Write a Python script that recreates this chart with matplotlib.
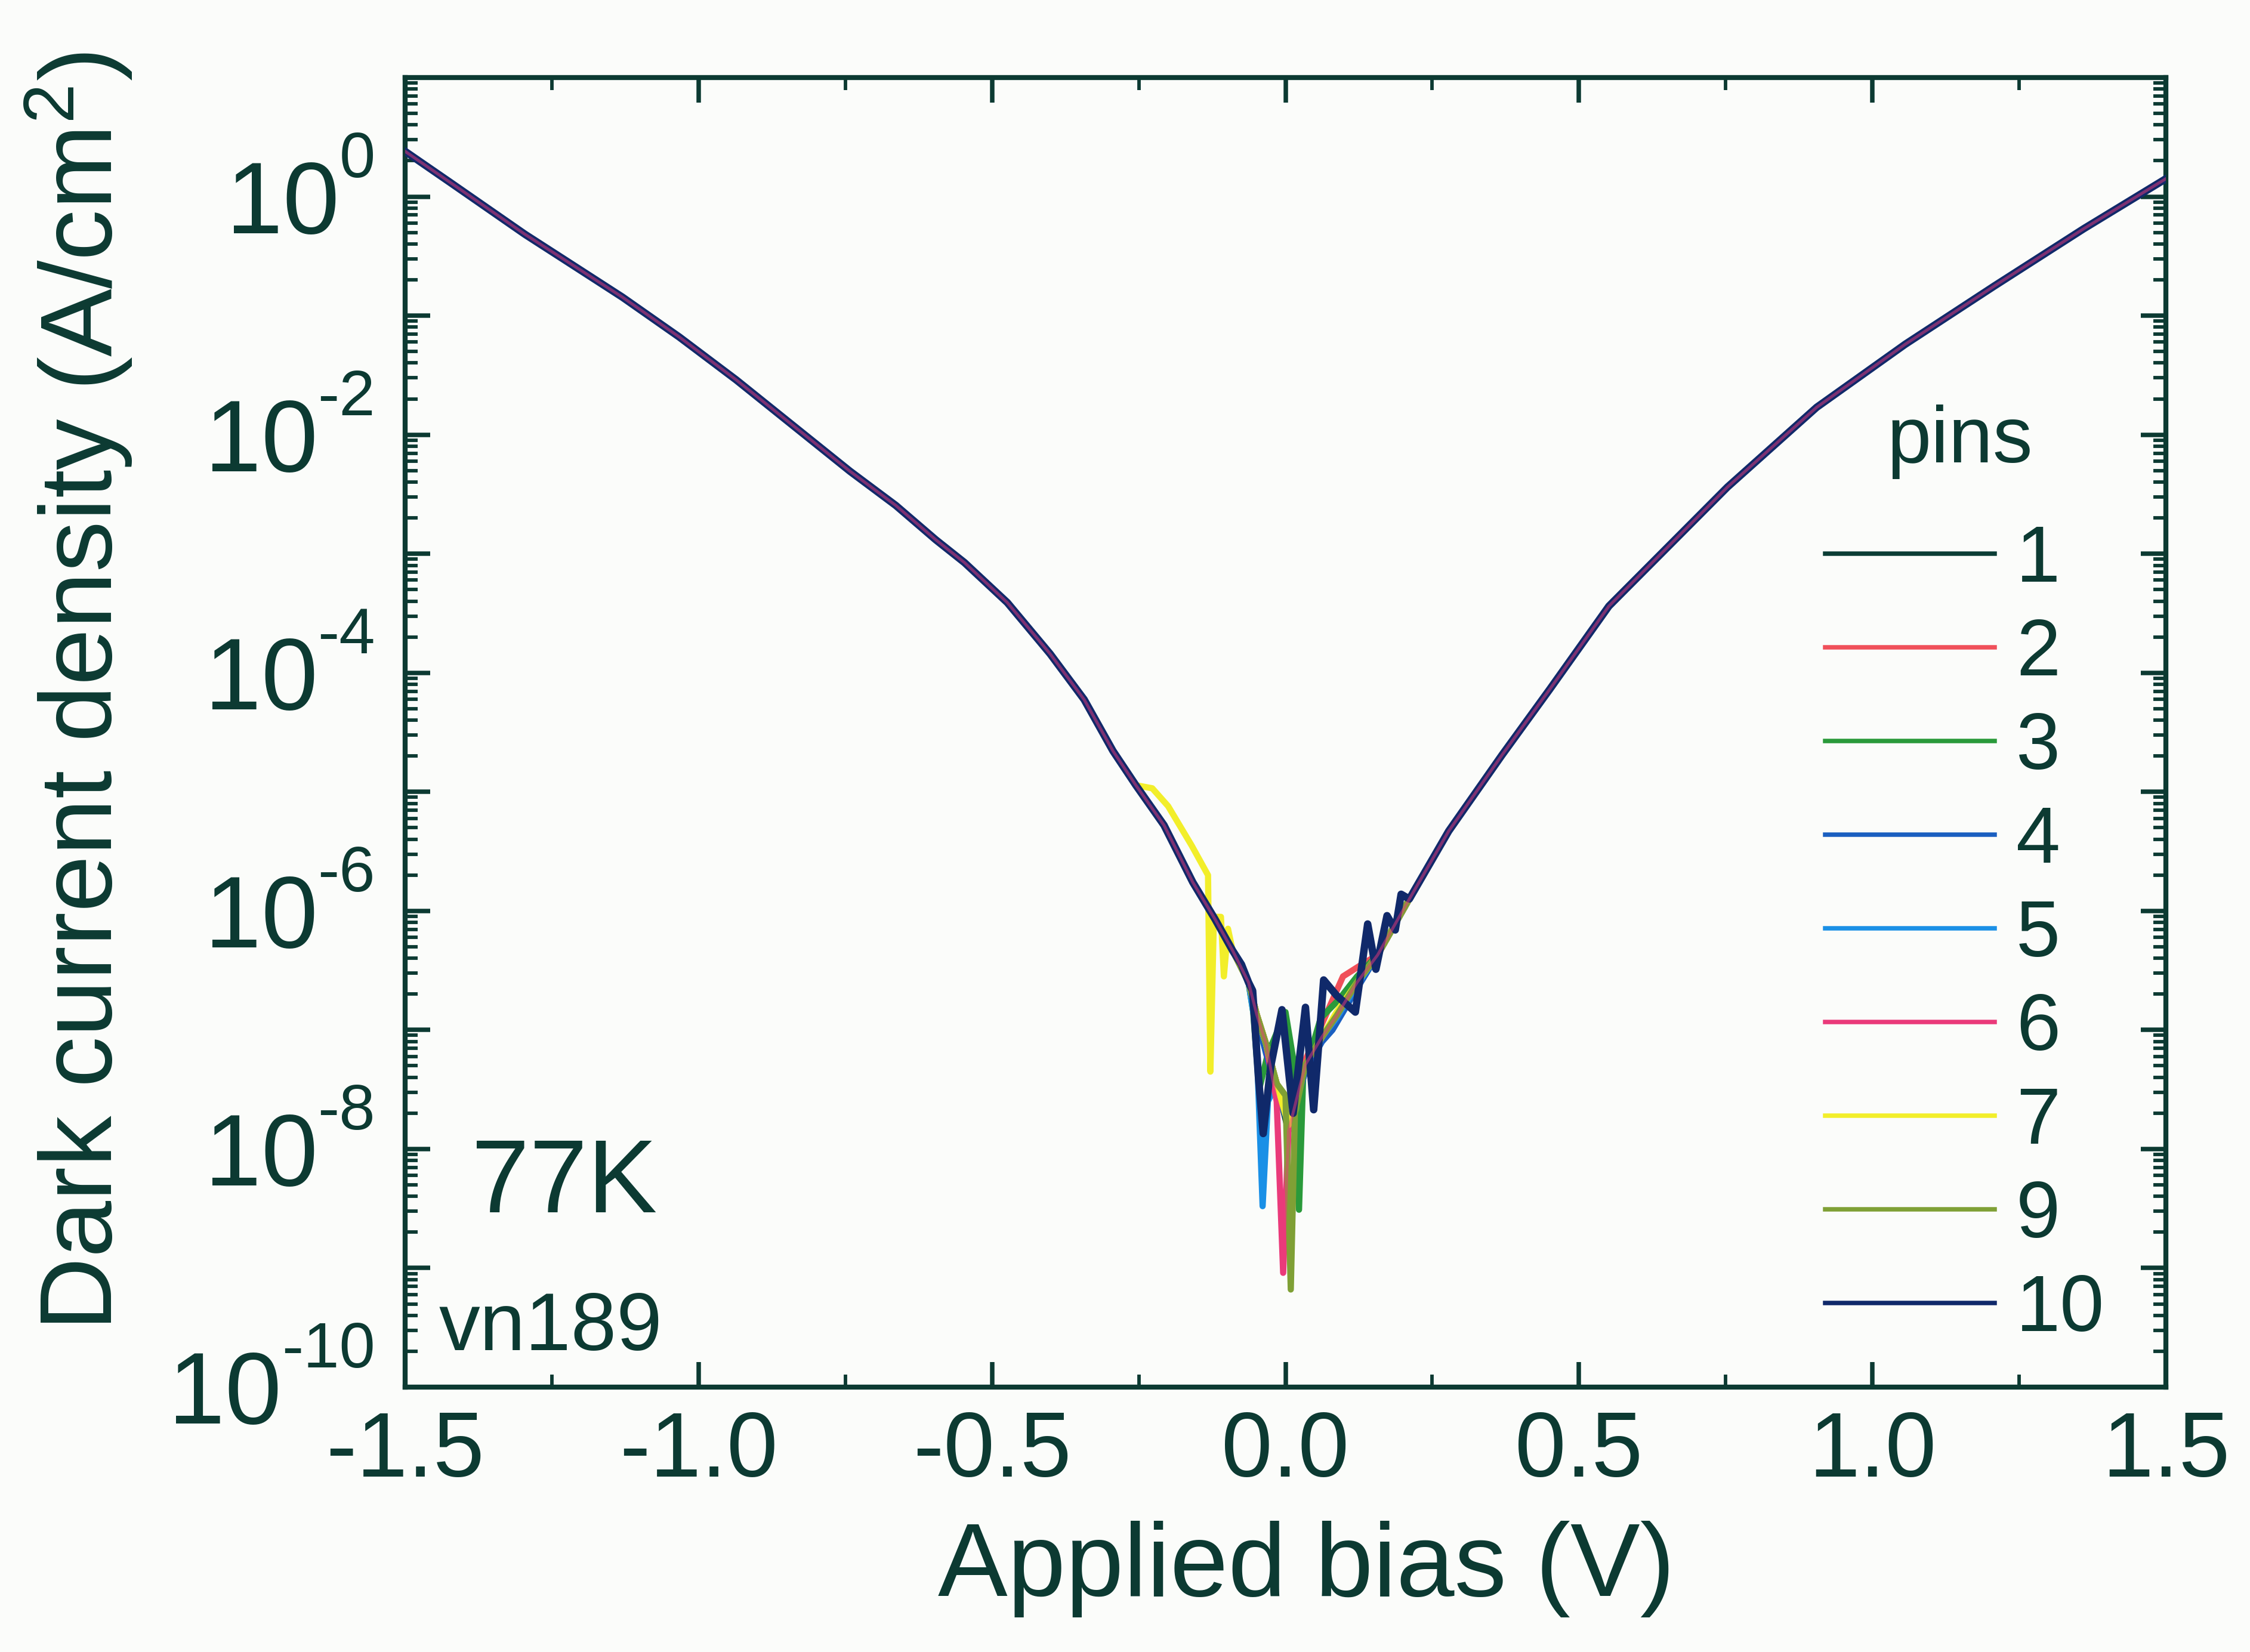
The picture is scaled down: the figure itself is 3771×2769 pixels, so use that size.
import numpy as np
import matplotlib.pyplot as plt
from matplotlib.ticker import MultipleLocator, LogLocator, FuncFormatter, NullFormatter

plt.rcParams['font.family'] = ['Liberation Sans', 'DejaVu Sans']
plt.rcParams['mathtext.fontset'] = 'custom'
plt.rcParams['mathtext.rm'] = 'Liberation Sans'
plt.rcParams['axes.unicode_minus'] = False

INK = '#0c3a32'

# shared part of the J-V curves (log10 of A/cm^2)
v_left = [-1.50, -1.422, -1.296, -1.228, -1.130, -1.033, -0.936, -0.839, -0.742, -0.664,
          -0.596, -0.547, -0.474, -0.401, -0.343, -0.294, -0.255, -0.207, -0.158, -0.120,
          -0.090]
logj_left = [0.38, 0.115, -0.316, -0.532, -0.844, -1.179, -1.539, -1.923, -2.307, -2.594,
             -2.882, -3.074, -3.410, -3.841, -4.225, -4.656, -4.944, -5.280, -5.759, -6.07,
             -6.334]
v_right = [0.211, 0.278, 0.369, 0.450, 0.551, 0.652, 0.753, 0.905, 1.056, 1.208, 1.360, 1.50]
logj_right = [-5.90, -5.33, -4.69, -4.14, -3.44, -2.94, -2.44, -1.77, -1.24, -0.75, -0.27, 0.15]

# low-bias region, per pin
v_mid = [-0.063, -0.049, -0.033, -0.015, 0.005, 0.034, 0.062, 0.087, 0.122, 0.157]
logj_mid = [-6.60, -6.87, -7.12, -7.45, -7.85, -7.29, -7.06, -6.88, -6.60, -6.37]

v_mid_2 = [-0.063, -0.049, -0.033, -0.015, 0.005, 0.034, 0.062, 0.098, 0.13, 0.157]
logj_mid_2 = [-6.60, -6.87, -7.12, -7.45, -7.80, -7.25, -6.95, -6.55, -6.45, -6.37]

v_mid_3 = [-0.063, -0.055, -0.045, -0.03, 0.0, 0.015, 0.023, 0.03, 0.06, 0.09, 0.122, 0.157]
logj_mid_3 = [-6.60, -6.85, -7.50, -7.20, -6.85, -7.30, -8.51, -7.40, -6.90, -6.75, -6.55, -6.37]

v_mid_4 = [-0.063, -0.049, -0.033, -0.015, 0.005, 0.034, 0.062, 0.080, 0.122, 0.157]
logj_mid_4 = [-6.60, -6.90, -7.20, -7.50, -7.80, -7.35, -7.10, -7.00, -6.65, -6.37]

v_mid_5 = [-0.063, -0.050, -0.039, -0.030, -0.015, 0.005, 0.034, 0.062, 0.087, 0.122, 0.157]
logj_mid_5 = [-6.60, -7.00, -8.48, -7.60, -7.45, -7.80, -7.30, -7.06, -6.90, -6.62, -6.37]

v_mid_6 = [-0.063, -0.049, -0.033, -0.015, -0.004, 0.005, 0.034, 0.062, 0.087, 0.122, 0.157]
logj_mid_6 = [-6.60, -6.87, -7.12, -7.60, -9.04, -7.85, -7.29, -7.06, -6.88, -6.60, -6.37]

v_mid_7 = [-0.063, -0.049, -0.033, -0.015, 0.005, 0.034, 0.062, 0.087, 0.122, 0.157]
logj_mid_7 = [-6.60, -6.87, -7.12, -7.45, -7.80, -7.29, -7.06, -6.85, -6.60, -6.37]
v_left_7 = [-0.227, -0.20, -0.16, -0.132, -0.128, -0.122, -0.110, -0.105, -0.098]
logj_left_7 = [-4.97, -5.12, -5.45, -5.70, -7.35, -6.05, -6.05, -6.55, -6.15]

v_mid_9 = [-0.063, -0.049, -0.033, -0.015, 0.0, 0.009, 0.016, 0.034, 0.062, 0.087, 0.122, 0.157]
logj_mid_9 = [-6.60, -6.87, -7.12, -7.45, -7.55, -9.18, -7.70, -7.29, -7.06, -6.88, -6.60, -6.37]

v_mid_10 = [-0.075, -0.063, -0.056, -0.046, -0.038, -0.025, -0.006, 0.013, 0.034, 0.048,
            0.065, 0.087, 0.119, 0.140, 0.154, 0.173, 0.187, 0.197]
logj_mid_10 = [-6.45, -6.60, -6.67, -7.40, -7.87, -7.30, -6.83, -7.70, -6.81, -7.67,
               -6.58, -6.71, -6.85, -6.11, -6.49, -6.04, -6.16, -5.86]

pins = ['1', '2', '3', '4', '5', '6', '7', '9', '10']
colors = ['#0b3d35', '#f0505a', '#2a9a3a', '#1a5fc0', '#1a90e6',
          '#ea3a7a', '#f2ee2a', '#7fa035', '#10296a']
mids = {
    '1': (v_mid, logj_mid), '2': (v_mid_2, logj_mid_2), '3': (v_mid_3, logj_mid_3),
    '4': (v_mid_4, logj_mid_4), '5': (v_mid_5, logj_mid_5), '6': (v_mid_6, logj_mid_6),
    '7': (v_mid_7, logj_mid_7), '9': (v_mid_9, logj_mid_9), '10': (v_mid_10, logj_mid_10),
}


def pin_curve(p):
    vm, jm = mids[p]
    if p == '7':
        n = v_left.index(-0.255) + 1
        v = v_left[:n] + v_left_7 + [v_left[-1]] + vm + v_right
        j = logj_left[:n] + logj_left_7 + [logj_left[-1]] + jm + logj_right
    else:
        v = v_left + vm + v_right
        j = logj_left + jm + logj_right
    return np.array(v), 10.0 ** np.array(j)


fig = plt.figure(figsize=(3771 / 300, 2769 / 300), dpi=300, facecolor='#fbfcfa')
ax = fig.add_axes([679 / 3771, 1 - 2325 / 2769, (3630 - 679) / 3771, (2325 - 130) / 2769])
ax.set_facecolor('#fbfcfa')

lines = {}
for p, c in zip(pins, colors):
    v, j = pin_curve(p)
    if p == '10':
        ln, = ax.plot(v, j, color=c, lw=3.0, label=p, zorder=3)
    else:
        ln, = ax.plot(v, j, color=c, lw=2.5, label=p, zorder=2)
    lines[p] = ln

# thin pink trace on top gives the purple look of the overlapping curves
v6, j6 = pin_curve('6')
ax.plot(v6, j6, color='#ea3a7a', lw=1.2, alpha=0.5, zorder=4)

ax.set_yscale('log')
ax.set_xlim(-1.5, 1.5)
ax.set_ylim(1e-10, 1e1)

ax.xaxis.set_major_locator(MultipleLocator(0.5))
ax.xaxis.set_minor_locator(MultipleLocator(0.25))
ax.xaxis.set_major_formatter(FuncFormatter(lambda x, pos: '%.1f' % x))
ax.yaxis.set_major_locator(LogLocator(base=10, numticks=30))
ax.yaxis.set_minor_locator(LogLocator(base=10, subs=np.arange(2, 10), numticks=30))
ax.yaxis.set_major_formatter(NullFormatter())
ax.yaxis.set_minor_formatter(NullFormatter())

for s in ax.spines.values():
    s.set_color(INK)
    s.set_linewidth(2.0)
ax.tick_params(which='both', direction='in', top=True, right=True, color=INK,
               labelcolor=INK)
ax.tick_params(axis='x', labelsize=37)
ax.tick_params(which='major', length=10, width=1.8, pad=9)
ax.tick_params(which='minor', length=5, width=1.4)

# y tick labels: "10" with a raised exponent using a plain hyphen
r = fig.canvas.get_renderer()
for e in range(-10, 1, 2):
    te = ax.annotate(str(e), xy=(0, 10.0 ** e), xycoords=('axes fraction', 'data'),
                     xytext=(-12, 7.9), textcoords='offset points', ha='right',
                     va='baseline', fontsize=26, color=INK, annotation_clip=False)
    w = te.get_window_extent(renderer=r).width * 72 / fig.dpi
    ax.annotate('10', xy=(0, 10.0 ** e), xycoords=('axes fraction', 'data'),
                xytext=(-12 - w, -14.7), textcoords='offset points', ha='right',
                va='baseline', fontsize=41, color=INK, annotation_clip=False)

ax.set_xlabel('Applied bias (V)', fontsize=42, color=INK)
ax.xaxis.set_label_coords(0.512, -0.102)
ax.set_ylabel(r'Dark current density (A/cm$\mathregular{^2}$)', fontsize=41, color=INK)
ax.yaxis.set_label_coords(-0.154, 0.531)

ax.text((790 - 679) / 2951, (2325 - 2032) / 2195, '77K', transform=ax.transAxes,
        fontsize=42, color=INK, ha='left', va='baseline')
ax.text((736 - 679) / 2951, (2325 - 2263) / 2195, 'vn189', transform=ax.transAxes,
        fontsize=33, color=INK, ha='left', va='baseline')

ax.text(0.883, 0.722, 'pins', transform=ax.transAxes, fontsize=32, color=INK,
        ha='center', va='center')
leg = ax.legend([lines[p] for p in pins], pins, loc='upper left',
                bbox_to_anchor=(0.8065, 0.6593), frameon=False, fontsize=32,
                handlelength=2.13, handletextpad=0.27,
                labelspacing=0.24, borderpad=0, borderaxespad=0)
for t in leg.get_texts():
    t.set_color(INK)
for h in leg.legend_handles:
    h.set_linewidth(1.8)

fig.savefig('out.png', dpi=300, facecolor=fig.get_facecolor())
